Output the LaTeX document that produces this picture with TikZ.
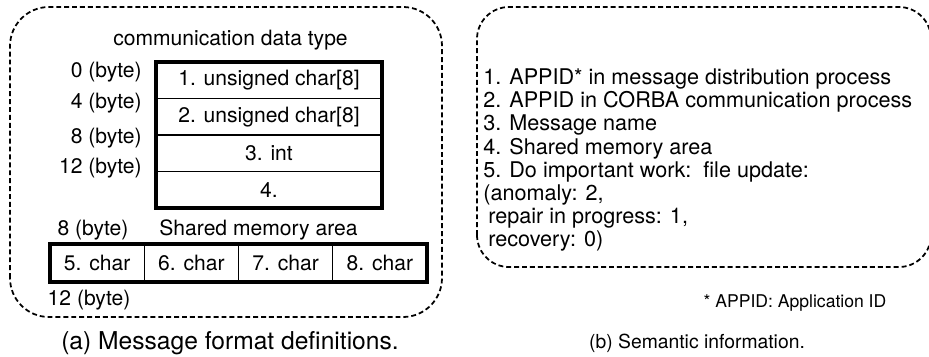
\documentclass[tikz,border=0pt]{standalone}
\usepackage{fontspec}
\setmainfont{TeX Gyre Heros}
\usetikzlibrary{positioning}
\begin{document}
\begin{tikzpicture}[
	marco/.style={draw, line width=1pt, dash pattern=on 2.8pt off 1.7pt},
	celda/.style={draw, line width=0.8pt, minimum width=4.52cm, minimum height=0.73cm, inner sep=0pt, outer sep=0pt, font=\fontsize{12}{14}\selectfont},
	caja/.style={draw, line width=0.8pt, minimum width=1.885cm, minimum height=0.76cm, inner sep=0pt, outer sep=0pt, font=\fontsize{12}{14}\selectfont},
	byte/.style={inner sep=0pt, font=\fontsize{12}{14}\selectfont},
	linea/.style={anchor=base west, inner sep=0pt, font=\fontsize{12.3}{14}\selectfont}
	]
	\useasboundingbox (0,0) rectangle (18.58,7.12);
	
	% marcos
	\draw[marco, rounded corners=0.78cm] (0.2,0.78) rectangle (8.84,6.98);
	\draw[marco, rounded corners=0.64cm] (9.54,1.78) rectangle (18.62,6.98);
	
	% tipo de datos
	\node[byte] (tipo) at (4.61,6.32) {communication data type};
	\node[celda] (f1) at (5.38,5.515) {1. unsigned char[8]};
	\node[celda, below=0pt of f1] (f2) {2. unsigned char[8]};
	\node[celda, below=0pt of f2] (f3) {3. int};
	\node[celda, below=0pt of f3] (f4) {4.};
	\draw[line width=2.3pt] (f1.north west) rectangle (f4.south east);
	
	% bytes
	\node[byte, anchor=east] (b0) at (2.84,5.68) {0 (byte)};
	\node[byte, anchor=east] (b4) at (2.84,5.06) {4 (byte)};
	\node[byte, anchor=east] (b8) at (2.84,4.36) {8 (byte)};
	\node[byte, anchor=east] (b12) at (2.84,3.76) {12 (byte)};
	
	% memoria compartida
	\node[byte] (m8) at (1.86,2.52) {8 (byte)};
	\node[byte] (area) at (5.17,2.52) {Shared memory area};
	\node[caja] (c5) at (1.9425,1.86) {5. char};
	\node[caja, right=0pt of c5] (c6) {6. char};
	\node[caja, right=0pt of c6] (c7) {7. char};
	\node[caja, right=0pt of c7] (c8) {8. char};
	\draw[line width=2.3pt] (c5.north west) rectangle (c8.south east);
	\node[byte] (m12) at (1.78,1.12) {12 (byte)};
	
	% titulo (a)
	\node[font=\fontsize{14}{16}\selectfont] (tita) at (4.60,0.26) {(a) Message format definitions.};
	
	% informacion semantica
	\node[linea] (s1) at (9.66,5.43) {1. APPID* in message distribution process};
	\node[linea] (s2) at (9.66,4.966) {2. APPID in CORBA communication process};
	\node[linea] (s3) at (9.66,4.502) {3. Message name};
	\node[linea] (s4) at (9.66,4.038) {4. Shared memory area};
	\node[linea] (s5) at (9.66,3.574) {5. Do important work:\ \ file update:};
	\node[linea] (s6) at (9.66,3.11) {(anomaly: 2,};
	\node[linea] (s7) at (9.76,2.646) {repair in progress: 1,};
	\node[linea] (s8) at (9.76,2.182) {recovery: 0)};
	\node[font=\fontsize{10}{12}\selectfont] (nota) at (15.90,1.06) {* APPID: Application ID};
	
	% titulo (b)
	\node[font=\fontsize{11}{13}\selectfont] (titb) at (13.94,0.26) {(b) Semantic information.};
\end{tikzpicture}
\end{document}
